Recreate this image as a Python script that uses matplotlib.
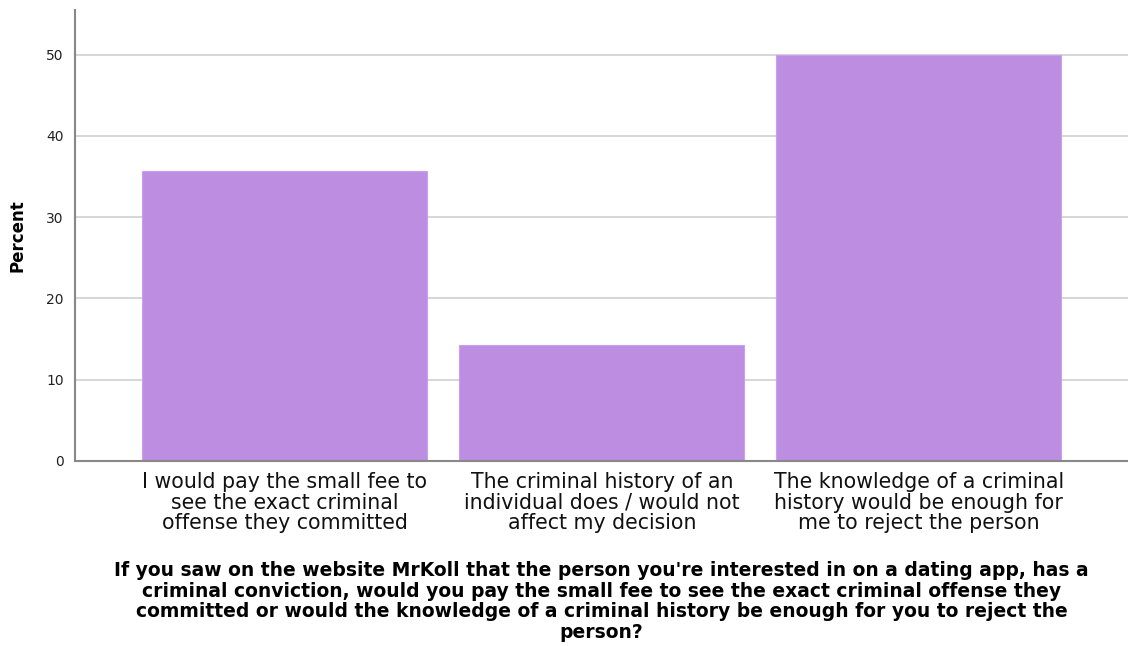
import matplotlib.pyplot as plt
import numpy as np

categories = ['I would pay the small fee to\nsee the exact criminal\noffense they committed',
              'The criminal history of an\nindividual does / would not\naffect my decision',
              'The knowledge of a criminal\nhistory would be enough for\nme to reject the person']
percent = [35.7, 14.3, 50.0]
yticks = [0, 10, 20, 30, 40, 50]
xtitle = ("If you saw on the website MrKoll that the person you're interested in on a dating app, has a\n"
          "criminal conviction, would you pay the small fee to see the exact criminal offense they\n"
          "committed or would the knowledge of a criminal history be enough for you to reject the\n"
          "person?")

fig = plt.figure(figsize=(11.28, 6.46), dpi=100)
ax = fig.add_axes([75 / 1128, 1 - 461 / 646, 1053 / 1128, 451 / 646])

x = np.arange(len(categories))
ax.bar(x, percent, width=0.9, color='#BD8DE2', edgecolor='#C9A0EE', linewidth=0.8, zorder=2)

ax.set_xlim(-0.662, 2.66)
ax.set_ylim(0, 55.5)
ax.set_yticks(yticks)
ax.yaxis.grid(True, color='#D0D0D0', linewidth=1.2, zorder=0)
ax.set_axisbelow(True)

for s in ['top', 'right']:
    ax.spines[s].set_visible(False)
for s in ['left', 'bottom']:
    ax.spines[s].set_color('#888888')
    ax.spines[s].set_linewidth(1.5)

ax.tick_params(axis='y', length=0, pad=8, labelsize=10, colors='#222222')
ax.tick_params(axis='x', length=0, pad=8)
ax.set_xticks(x)
ax.set_xticklabels(categories, fontsize=14.8, linespacing=1.04, color='#111111')

ax.set_ylabel('Percent', fontsize=12, fontweight='bold', labelpad=14)
ax.set_xlabel(xtitle, fontsize=13.5, fontweight='bold', linespacing=1.1, labelpad=20)

fig.savefig('out.png', dpi=100)
